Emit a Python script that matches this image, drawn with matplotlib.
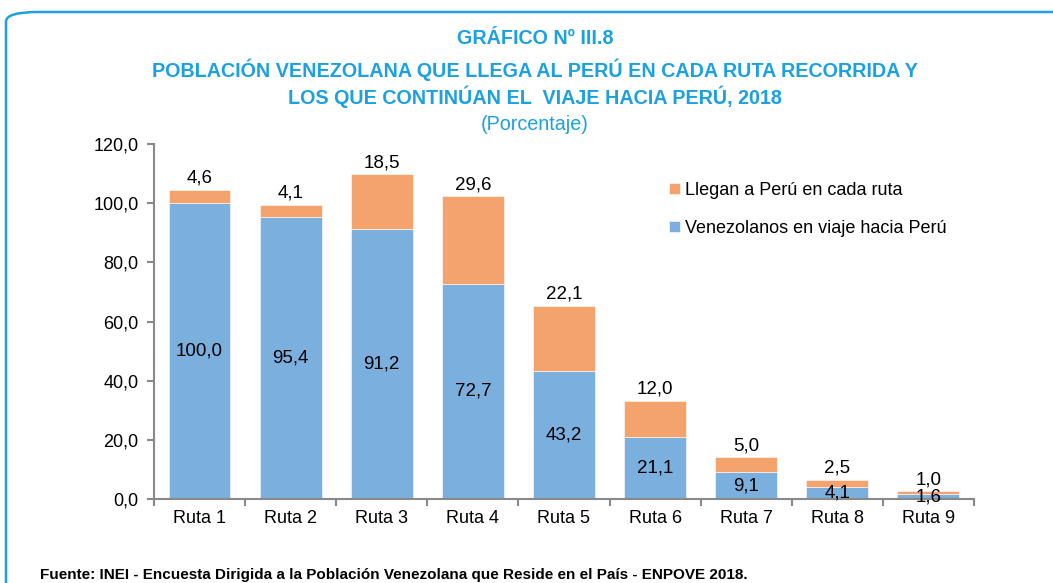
import matplotlib.pyplot as plt
from matplotlib.patches import FancyBboxPatch

# datos
rutas = ["Ruta 1", "Ruta 2", "Ruta 3", "Ruta 4", "Ruta 5", "Ruta 6", "Ruta 7", "Ruta 8", "Ruta 9"]
en_viaje = [100.0, 95.4, 91.2, 72.7, 43.2, 21.1, 9.1, 4.1, 1.6]
llegan = [4.6, 4.1, 18.5, 29.6, 22.1, 12.0, 5.0, 2.5, 1.0]
yticks = [0, 20, 40, 60, 80, 100, 120]

AZUL = "#7BAFDE"
NARANJA = "#F3A36B"
CIAN = "#1BA1E2"
GRIS = "#898989"
FAM = ["Liberation Sans Narrow", "Liberation Sans", "DejaVu Sans"]

plt.rcParams["font.family"] = FAM

fig = plt.figure(figsize=(10.53, 5.83), dpi=100)
ax = fig.add_axes([0.1462, 0.144, 0.925 - 0.1462, 0.753 - 0.144])

# marco redondeado
marco = FancyBboxPatch((6 / 1053, -0.2), 1.2, (583 - 12) / 583 + 0.2,
                       boxstyle="round,pad=0,rounding_size=0.03",
                       transform=fig.transFigure, fill=False,
                       edgecolor=CIAN, linewidth=1.8, mutation_aspect=583 / 1053)
fig.patches.append(marco)

x = list(range(len(rutas)))
w = 0.68
ax.bar(x, en_viaje, w, color=AZUL, edgecolor="white", linewidth=0.4,
       label="Venezolanos en viaje hacia Perú")
ax.bar(x, llegan, w, bottom=en_viaje, color=NARANJA, edgecolor="white", linewidth=0.4,
       label="Llegan a Perú en cada ruta")

fmt = lambda v: f"{v:.1f}".replace(".", ",")
for i in x:
    ax.text(i, en_viaje[i] / 2, fmt(en_viaje[i]), ha="center", va="center", fontsize=13.5)
    ax.annotate(fmt(llegan[i]), (i, en_viaje[i] + llegan[i]), xytext=(0, 8.5),
                textcoords="offset points", ha="center", va="center", fontsize=13.5)

ax.set_xlim(-0.5, len(rutas) - 0.5)
ax.set_ylim(0, 120)
ax.set_yticks(yticks)
ax.set_yticklabels([fmt(v) for v in yticks], fontsize=13)
ax.set_xticks(x)
ax.set_xticklabels(rutas, fontsize=13)
ax.set_xticks([i + 0.5 for i in range(-1, len(rutas))], minor=True)
ax.tick_params(axis="x", which="major", length=0, pad=8)
ax.tick_params(axis="x", which="minor", length=5, color=GRIS, width=1.5)
ax.tick_params(axis="y", length=5, color=GRIS, width=1.5, pad=6)
for s in ["top", "right"]:
    ax.spines[s].set_visible(False)
for s in ["left", "bottom"]:
    ax.spines[s].set_color(GRIS)
    ax.spines[s].set_linewidth(1.5)

h, l = ax.get_legend_handles_labels()
ax.legend(h[::-1], l[::-1], loc="upper left", bbox_to_anchor=(660 / 1053, 1 - 173 / 583),
          bbox_transform=fig.transFigure, frameon=False, fontsize=13,
          handlelength=0.6, handleheight=0.6, handletextpad=0.3, labelspacing=1.15,
          borderpad=0)

# títulos
fig.text(535 / 1053, 1 - 38 / 583, "GRÁFICO Nº III.8", ha="center", va="center",
         color=CIAN, fontsize=14.2, fontweight="bold")
fig.text(535 / 1053, 1 - 70 / 583, "POBLACIÓN VENEZOLANA QUE LLEGA AL PERÚ EN CADA RUTA RECORRIDA Y",
         ha="center", va="center", color=CIAN, fontsize=14.2, fontweight="bold")
fig.text(535 / 1053, 1 - 97 / 583, "LOS QUE CONTINÚAN EL  VIAJE HACIA PERÚ, 2018",
         ha="center", va="center", color=CIAN, fontsize=14.2, fontweight="bold")
fig.text(535 / 1053, 1 - 125 / 583, "(Porcentaje)", ha="center", va="center",
         color=CIAN, fontsize=14.2)

fig.text(40 / 1053, 1 - 575 / 583,
         "Fuente: INEI - Encuesta Dirigida a la Población Venezolana que Reside en el País - ENPOVE 2018.",
         ha="left", va="center", fontsize=11, fontweight="bold")

fig.savefig("out.png", dpi=100)
